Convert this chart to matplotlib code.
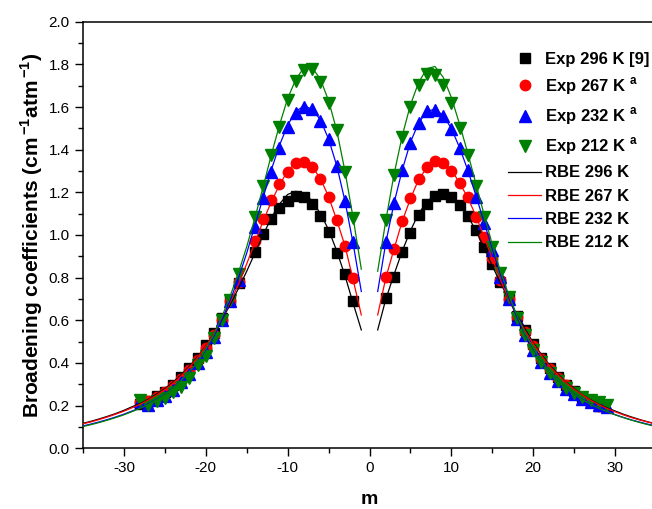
import numpy as np
import matplotlib
matplotlib.use("Agg")
import matplotlib.pyplot as plt
from matplotlib.ticker import MultipleLocator, FormatStrFormatter

plt.rcParams['font.family'] = ['Liberation Sans', 'DejaVu Sans']
plt.rcParams['mathtext.fontset'] = 'custom'
plt.rcParams['mathtext.rm'] = 'Liberation Sans'
plt.rcParams['mathtext.bf'] = 'Liberation Sans:bold'
plt.rcParams['axes.unicode_minus'] = False

# ---- experimental data (m, broadening coefficient) ----
m_exp_left = [-28, -27, -26, -25, -24, -23, -22, -21, -20, -19, -18, -17, -16,
              -14, -13, -12, -11, -10, -9, -8, -7, -6, -5, -4, -3, -2]
m_exp_right = list(range(2, 29))
m_exp_right29 = list(range(2, 30))

exp296_left = [0.210, 0.222, 0.245, 0.265, 0.297, 0.336, 0.375, 0.422, 0.484, 0.539,
               0.609, 0.695, 0.774, 0.922, 1.005, 1.074, 1.125, 1.161, 1.183, 1.177,
               1.145, 1.090, 1.013, 0.917, 0.817, 0.690]
exp296_right = [0.705, 0.805, 0.922, 1.011, 1.094, 1.145, 1.184, 1.192, 1.180, 1.141,
                1.090, 1.023, 0.945, 0.863, 0.778, 0.703, 0.620, 0.555, 0.488, 0.422,
                0.375, 0.333, 0.297, 0.269, 0.242, 0.219, 0.200]

exp267_left = [0.215, 0.220, 0.240, 0.262, 0.290, 0.325, 0.368, 0.415, 0.470, 0.530,
               0.600, 0.690, 0.780, 0.973, 1.074, 1.164, 1.239, 1.297, 1.336, 1.344,
               1.317, 1.261, 1.180, 1.070, 0.950, 0.797]
exp267_right = [0.805, 0.933, 1.067, 1.172, 1.261, 1.317, 1.347, 1.339, 1.301, 1.245,
                1.180, 1.086, 0.989, 0.891, 0.789, 0.700, 0.615, 0.545, 0.480, 0.420,
                0.370, 0.330, 0.295, 0.265, 0.240, 0.218, 0.200]

exp232_left = [0.220, 0.205, 0.225, 0.245, 0.275, 0.310, 0.350, 0.400, 0.450, 0.520,
               0.600, 0.690, 0.789, 1.039, 1.172, 1.297, 1.406, 1.505, 1.573, 1.601,
               1.589, 1.536, 1.449, 1.323, 1.161, 0.969]
exp232_right = [0.969, 1.149, 1.305, 1.433, 1.524, 1.583, 1.586, 1.558, 1.496, 1.409,
                1.305, 1.180, 1.055, 0.930, 0.805, 0.700, 0.605, 0.530, 0.460, 0.405,
                0.355, 0.315, 0.280, 0.255, 0.232, 0.215, 0.205, 0.195]

exp212_left = [0.227, 0.203, 0.220, 0.234, 0.265, 0.289, 0.328, 0.390, 0.433, 0.516,
               0.601, 0.695, 0.815, 1.086, 1.230, 1.375, 1.505, 1.633, 1.722, 1.773,
               1.777, 1.719, 1.620, 1.492, 1.297, 1.078]
exp212_right = [1.070, 1.281, 1.461, 1.601, 1.703, 1.755, 1.750, 1.703, 1.617, 1.500,
                1.375, 1.230, 1.086, 0.945, 0.823, 0.710, 0.610, 0.530, 0.460, 0.405,
                0.355, 0.315, 0.285, 0.260, 0.240, 0.225, 0.219, 0.203]

# ---- RBE calculations, |m| = 1..35 ----
m_calc = list(range(1, 36))

rbe296_left = [0.555, 0.680, 0.810, 0.925, 1.025, 1.100, 1.160, 1.195, 1.205, 1.190,
               1.145, 1.080, 1.000, 0.915, 0.830, 0.750, 0.675, 0.605, 0.540, 0.480,
               0.430, 0.385, 0.345, 0.310, 0.280, 0.255, 0.230, 0.210, 0.195, 0.178,
               0.163, 0.150, 0.138, 0.127, 0.117]
rbe296_right = [0.555, 0.700, 0.815, 0.925, 1.020, 1.100, 1.155, 1.190, 1.200, 1.185,
                1.145, 1.090, 1.020, 0.940, 0.855, 0.775, 0.700, 0.625, 0.560, 0.495,
                0.440, 0.390, 0.350, 0.310, 0.280, 0.250, 0.228, 0.207, 0.190, 0.175,
                0.160, 0.147, 0.135, 0.124, 0.115]

rbe267_left = [0.625, 0.790, 0.950, 1.070, 1.180, 1.265, 1.320, 1.345, 1.340, 1.300,
               1.235, 1.155, 1.065, 0.965, 0.865, 0.770, 0.685, 0.610, 0.540, 0.478,
               0.425, 0.380, 0.340, 0.305, 0.275, 0.250, 0.227, 0.207, 0.190, 0.174,
               0.160, 0.147, 0.135, 0.124, 0.115]
rbe267_right = [0.625, 0.800, 0.935, 1.065, 1.170, 1.260, 1.315, 1.345, 1.340, 1.305,
                1.245, 1.175, 1.090, 0.990, 0.890, 0.790, 0.700, 0.620, 0.550, 0.490,
                0.435, 0.385, 0.345, 0.308, 0.277, 0.250, 0.226, 0.205, 0.187, 0.171,
                0.157, 0.144, 0.133, 0.123, 0.113]

rbe232_left = [0.735, 0.960, 1.160, 1.325, 1.450, 1.540, 1.590, 1.605, 1.580, 1.515,
               1.420, 1.305, 1.175, 1.045, 0.915, 0.800, 0.695, 0.605, 0.525, 0.460,
               0.405, 0.360, 0.320, 0.285, 0.255, 0.230, 0.210, 0.190, 0.175, 0.160,
               0.147, 0.135, 0.124, 0.114, 0.105]
rbe232_right = [0.735, 0.965, 1.150, 1.305, 1.435, 1.525, 1.580, 1.590, 1.560, 1.500,
                1.410, 1.305, 1.185, 1.060, 0.935, 0.815, 0.710, 0.615, 0.535, 0.465,
                0.410, 0.360, 0.320, 0.285, 0.255, 0.230, 0.208, 0.190, 0.173, 0.158,
                0.145, 0.133, 0.123, 0.113, 0.105]

rbe212_left = [0.840, 1.080, 1.300, 1.490, 1.630, 1.730, 1.785, 1.785, 1.730, 1.640,
               1.515, 1.375, 1.225, 1.080, 0.945, 0.825, 0.715, 0.620, 0.535, 0.465,
               0.405, 0.360, 0.318, 0.283, 0.253, 0.228, 0.207, 0.188, 0.172, 0.157,
               0.144, 0.132, 0.121, 0.111, 0.102]
rbe212_right = [0.830, 1.070, 1.285, 1.465, 1.610, 1.715, 1.780, 1.790, 1.740, 1.645,
                1.520, 1.385, 1.240, 1.095, 0.955, 0.830, 0.720, 0.625, 0.540, 0.470,
                0.410, 0.360, 0.320, 0.285, 0.254, 0.228, 0.207, 0.188, 0.172, 0.157,
                0.144, 0.132, 0.121, 0.111, 0.102]

exp_labels = ['Exp 296 K [9]', r'Exp 267 K $^{\mathbf{a}}$',
              r'Exp 232 K $^{\mathbf{a}}$', r'Exp 212 K $^{\mathbf{a}}$']
rbe_labels = ['RBE 296 K', 'RBE 267 K', 'RBE 232 K', 'RBE 212 K']
colors = ['black', 'red', 'blue', 'green']
markers = ['s', 'o', '^', 'v']
msizes = [7, 7.5, 8, 8]

fig = plt.figure(figsize=(6.52, 5.09), dpi=100)
ax = fig.add_axes([83 / 652, 60.7 / 509, 573 / 652, 426.6 / 509])

exp_sets = [
    (m_exp_left, exp296_left, m_exp_right, exp296_right),
    (m_exp_left, exp267_left, m_exp_right, exp267_right),
    (m_exp_left, exp232_left, m_exp_right29, exp232_right),
    (m_exp_left, exp212_left, m_exp_right29, exp212_right),
]
rbe_sets = [
    (rbe296_left, rbe296_right),
    (rbe267_left, rbe267_right),
    (rbe232_left, rbe232_right),
    (rbe212_left, rbe212_right),
]

m_calc_left = [-m for m in m_calc]
line_handles = []
for (left, right), c, lab in zip(rbe_sets, colors, rbe_labels):
    h, = ax.plot(m_calc_left, left, color=c, lw=0.9, label=lab, zorder=3)
    ax.plot(m_calc, right, color=c, lw=0.9, zorder=3)
    line_handles.append(h)

exp_handles = []
for (ml, yl, mr, yr), c, mk, ms, lab in zip(exp_sets, colors, markers, msizes, exp_labels):
    h, = ax.plot(ml, yl, ls='none', marker=mk, ms=ms, color=c, mec=c, label=lab, zorder=2)
    ax.plot(mr, yr, ls='none', marker=mk, ms=ms, color=c, mec=c, zorder=2)
    exp_handles.append(h)

ax.set_xlim(-35, 35)
ax.set_ylim(0.0, 2.0)
ax.xaxis.set_major_locator(MultipleLocator(10))
ax.xaxis.set_minor_locator(MultipleLocator(5))
ax.yaxis.set_major_locator(MultipleLocator(0.2))
ax.yaxis.set_minor_locator(MultipleLocator(0.1))
ax.yaxis.set_major_formatter(FormatStrFormatter('%.1f'))
ax.tick_params(which='both', direction='out', top=False, right=False, width=1.0)
ax.tick_params(which='major', length=6, labelsize=11)
ax.tick_params(which='minor', length=3.5)
for s in ax.spines.values():
    s.set_linewidth(1.1)

ax.set_xlabel('m', fontsize=14, fontweight='bold', labelpad=11)
ax.set_ylabel(r'Broadening coefficients (cm$^{\,\mathbf{-1}}$atm$^{\,\mathbf{-1}}$)',
              fontsize=15, fontweight='bold', labelpad=3)

ax.legend(exp_handles + line_handles, exp_labels + rbe_labels,
          loc='upper left', bbox_to_anchor=(0.742, 0.929), frameon=False,
          prop={'weight': 'bold', 'size': 12}, handlelength=2.0,
          handletextpad=0.2, labelspacing=0.5, borderaxespad=0.0,
          borderpad=0.0)

fig.savefig('out.png', dpi=100)
